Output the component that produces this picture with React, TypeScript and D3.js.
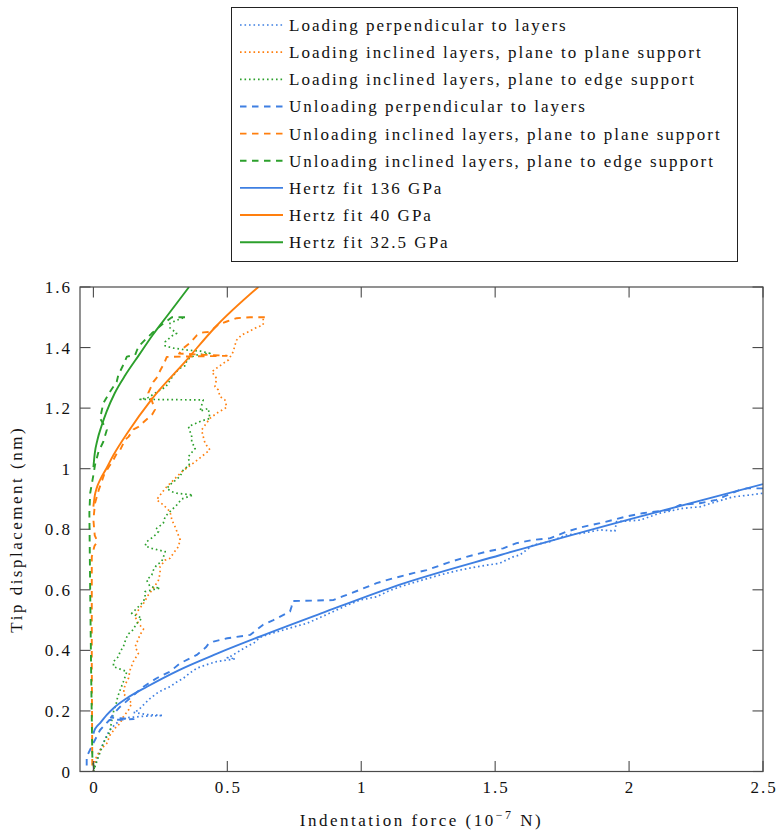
import React from 'react';
import * as d3 from 'd3';

type Pt = [number, number]; // [indentation force (1e-7 N), tip displacement (nm)]

// Measured loading curves
const loadPerpendicular: Pt[] = [
  [0.0, 0.0], [0.006, 0.02], [0.012, 0.04], [0.02, 0.06], [0.03, 0.08], [0.04, 0.1], [0.05, 0.12],
  [0.06, 0.135], [0.075, 0.15], [0.09, 0.162], [0.1, 0.17], [0.13, 0.178], [0.18, 0.182], [0.26, 0.185],
  [0.2, 0.188], [0.15, 0.195], [0.168, 0.203], [0.187, 0.22], [0.21, 0.24], [0.236, 0.258], [0.26, 0.27],
  [0.286, 0.28], [0.31, 0.295], [0.336, 0.308], [0.36, 0.325], [0.386, 0.341], [0.42, 0.352], [0.46, 0.363],
  [0.53, 0.372], [0.5, 0.376], [0.51, 0.379], [0.54, 0.395], [0.572, 0.412], [0.6, 0.425], [0.622, 0.443],
  [0.66, 0.455], [0.7, 0.465], [0.75, 0.478], [0.796, 0.489], [0.85, 0.51], [0.9, 0.53], [0.95, 0.55],
  [0.995, 0.566], [1.057, 0.577], [1.1, 0.595], [1.144, 0.61], [1.2, 0.625], [1.269, 0.643], [1.32, 0.655],
  [1.368, 0.665], [1.43, 0.676], [1.518, 0.688], [1.567, 0.709], [1.592, 0.715], [1.642, 0.748],
  [1.704, 0.759], [1.766, 0.781], [1.828, 0.787], [1.891, 0.798], [1.947, 0.794], [1.953, 0.825],
  [2.04, 0.83], [2.115, 0.853], [2.2, 0.869], [2.264, 0.874], [2.326, 0.891], [2.388, 0.907],
  [2.45, 0.913], [2.5, 0.919],
];

const loadPlaneToPlane: Pt[] = [
  [0, 0], [0.006, 0.038], [0.025, 0.071], [0.05, 0.093], [0.062, 0.12], [0.081, 0.143], [0.1, 0.159],
  [0.112, 0.181], [0.131, 0.203], [0.143, 0.225], [0.112, 0.258], [0.118, 0.286], [0.131, 0.308],
  [0.137, 0.335], [0.149, 0.363], [0.168, 0.39], [0.156, 0.412], [0.174, 0.451], [0.187, 0.47],
  [0.168, 0.489], [0.156, 0.511], [0.168, 0.533], [0.187, 0.555], [0.205, 0.583], [0.224, 0.605],
  [0.243, 0.632], [0.249, 0.655], [0.249, 0.676], [0.268, 0.698], [0.286, 0.704], [0.299, 0.721],
  [0.317, 0.742], [0.324, 0.765], [0.317, 0.781], [0.305, 0.808], [0.293, 0.831], [0.286, 0.858],
  [0.262, 0.88], [0.236, 0.897], [0.245, 0.908], [0.268, 0.935], [0.293, 0.957], [0.33, 0.99],
  [0.38, 1.023], [0.435, 1.062], [0.417, 1.084], [0.41, 1.106], [0.404, 1.128], [0.435, 1.166],
  [0.46, 1.183], [0.498, 1.203], [0.491, 1.227], [0.473, 1.238], [0.466, 1.26], [0.454, 1.271],
  [0.46, 1.298], [0.442, 1.32], [0.46, 1.332], [0.485, 1.348], [0.504, 1.359], [0.522, 1.386],
  [0.529, 1.409], [0.535, 1.425], [0.554, 1.442], [0.579, 1.452], [0.603, 1.464], [0.634, 1.475],
  [0.634, 1.502],
];

const loadPlaneToEdge: Pt[] = [
  [0, 0], [0.006, 0.016], [0.019, 0.049], [0.031, 0.077], [0.037, 0.093], [0.05, 0.115], [0.062, 0.131],
  [0.065, 0.15], [0.069, 0.17], [0.075, 0.197], [0.087, 0.23], [0.09, 0.245], [0.1, 0.269], [0.112, 0.297],
  [0.125, 0.33], [0.1, 0.338], [0.075, 0.346], [0.075, 0.363], [0.093, 0.379], [0.1, 0.396], [0.112, 0.412],
  [0.118, 0.429], [0.125, 0.445], [0.131, 0.455], [0.143, 0.462], [0.162, 0.489], [0.181, 0.506],
  [0.143, 0.522], [0.168, 0.544], [0.187, 0.561], [0.193, 0.577], [0.193, 0.594], [0.249, 0.606],
  [0.212, 0.61], [0.199, 0.632], [0.218, 0.649], [0.224, 0.665], [0.236, 0.682], [0.255, 0.693],
  [0.261, 0.707], [0.268, 0.726], [0.218, 0.737], [0.193, 0.745], [0.199, 0.759], [0.224, 0.775],
  [0.243, 0.792], [0.236, 0.803], [0.261, 0.82], [0.268, 0.842], [0.286, 0.858], [0.311, 0.88],
  [0.33, 0.9], [0.372, 0.913], [0.311, 0.919], [0.293, 0.924], [0.274, 0.935], [0.29, 0.95],
  [0.323, 0.974], [0.336, 0.996], [0.358, 1.012], [0.355, 1.04], [0.38, 1.067], [0.367, 1.089],
  [0.367, 1.106], [0.355, 1.139], [0.404, 1.158], [0.435, 1.166], [0.429, 1.199], [0.398, 1.19],
  [0.41, 1.227], [0.174, 1.229], [0.205, 1.235], [0.24, 1.255], [0.27, 1.27], [0.285, 1.29],
  [0.3, 1.31], [0.32, 1.33], [0.342, 1.34], [0.35, 1.36], [0.38, 1.375], [0.435, 1.381], [0.4, 1.388],
  [0.349, 1.392], [0.3, 1.398], [0.268, 1.405], [0.268, 1.419], [0.293, 1.438], [0.311, 1.447],
  [0.286, 1.465], [0.286, 1.48], [0.31, 1.49], [0.342, 1.5],
];

// Measured unloading curves
const unloadPerpendicular: Pt[] = [
  [2.5, 0.935], [2.44, 0.935], [2.413, 0.93], [2.36, 0.91], [2.326, 0.897], [2.264, 0.886], [2.189, 0.88],
  [2.152, 0.864], [2.05, 0.853], [1.99, 0.842], [1.891, 0.82], [1.828, 0.808], [1.766, 0.792],
  [1.704, 0.77], [1.642, 0.765], [1.58, 0.754], [1.53, 0.737], [1.468, 0.726], [1.393, 0.709],
  [1.319, 0.688], [1.244, 0.665], [1.194, 0.655], [1.119, 0.638], [1.057, 0.622], [0.995, 0.6],
  [0.93, 0.578], [0.895, 0.566], [0.743, 0.563], [0.74, 0.545], [0.734, 0.528], [0.672, 0.5],
  [0.634, 0.485], [0.585, 0.451], [0.5, 0.44], [0.448, 0.429], [0.43, 0.422], [0.42, 0.41],
  [0.386, 0.385], [0.323, 0.357], [0.286, 0.33], [0.236, 0.308], [0.187, 0.28], [0.137, 0.242],
  [0.1, 0.214], [0.08, 0.195], [0.065, 0.178], [0.15, 0.173], [0.06, 0.17], [0.025, 0.137],
  [0.0, 0.094], [-0.025, 0.049], [-0.025, 0.005],
];

const unloadPlaneToPlane: Pt[] = [
  [0.64, 1.5], [0.585, 1.5], [0.535, 1.497], [0.498, 1.486], [0.466, 1.476], [0.435, 1.452], [0.41, 1.45],
  [0.386, 1.44], [0.36, 1.415], [0.336, 1.398], [0.32, 1.38], [0.498, 1.373], [0.274, 1.369],
  [0.264, 1.348], [0.25, 1.325], [0.236, 1.3], [0.224, 1.287], [0.205, 1.25], [0.212, 1.24],
  [0.23, 1.195], [0.22, 1.18], [0.168, 1.138], [0.15, 1.13], [0.131, 1.105], [0.118, 1.095],
  [0.1, 1.062], [0.087, 1.05], [0.069, 1.02], [0.062, 1.012], [0.04, 0.98], [0.02, 0.93],
  [0.006, 0.886], [0, 0.831], [0.005, 0.78], [0.015, 0.76], [0.004, 0.745], [-0.006, 0.709],
  [-0.006, 0.35], [-0.004, 0],
];

const unloadPlaneToEdge: Pt[] = [
  [0.342, 1.5], [0.293, 1.5], [0.255, 1.475], [0.218, 1.447], [0.199, 1.431], [0.168, 1.403],
  [0.156, 1.376], [0.125, 1.37], [0.11, 1.34], [0.093, 1.309], [0.087, 1.287], [0.062, 1.254],
  [0.037, 1.216], [0.025, 1.166], [0.05, 1.128], [0.037, 1.089], [0.019, 1.056], [0.006, 1.012],
  [0, 0.979], [-0.012, 0.919], [-0.015, 0.853], [-0.012, 0.6], [-0.008, 0.3], [-0.004, 0.05], [0.004, 0],
];

// Hertz contact fits
const hertz136: Pt[] = [
  [0, 0.125], [0.005, 0.138], [0.012, 0.148], [0.025, 0.16], [0.05, 0.187], [0.075, 0.209],
  [0.125, 0.242], [0.2, 0.28], [0.32, 0.335], [0.45, 0.385], [0.62, 0.445], [0.85, 0.522],
  [1.12, 0.61], [1.52, 0.715], [2.015, 0.836], [2.5, 0.949],
];

const hertz40: Pt[] = [
  [0, 0.875], [0.005, 0.91], [0.012, 0.935], [0.025, 0.963], [0.048, 1.0], [0.075, 1.045],
  [0.13, 1.122], [0.218, 1.23], [0.342, 1.353], [0.46, 1.472], [0.616, 1.6],
];

const hertz325: Pt[] = [
  [0, 1.005], [0.005, 1.05], [0.015, 1.095], [0.03, 1.14], [0.05, 1.19], [0.08, 1.25],
  [0.12, 1.31], [0.17, 1.375], [0.22, 1.44], [0.28, 1.51], [0.357, 1.6],
];

const xTicks = [0, 0.5, 1, 1.5, 2, 2.5];
const yTicks = [0, 0.2, 0.4, 0.6, 0.8, 1, 1.2, 1.4, 1.6];

const BLUE = '#3e7fe2';
const ORANGE = '#ff7f0e';
const GREEN = '#2ca02c';

type Kind = 'dotted' | 'dashed' | 'solid';
interface Series { label: string; data: Pt[]; color: string; kind: Kind }

const series: Series[] = [
  { label: 'Loading perpendicular to layers', data: loadPerpendicular, color: BLUE, kind: 'dotted' },
  { label: 'Loading inclined layers, plane to plane support', data: loadPlaneToPlane, color: ORANGE, kind: 'dotted' },
  { label: 'Loading inclined layers, plane to edge support', data: loadPlaneToEdge, color: GREEN, kind: 'dotted' },
  { label: 'Unloading perpendicular to layers', data: unloadPerpendicular, color: BLUE, kind: 'dashed' },
  { label: 'Unloading inclined layers, plane to plane support', data: unloadPlaneToPlane, color: ORANGE, kind: 'dashed' },
  { label: 'Unloading inclined layers, plane to edge support', data: unloadPlaneToEdge, color: GREEN, kind: 'dashed' },
  { label: 'Hertz fit 136 GPa', data: hertz136, color: BLUE, kind: 'solid' },
  { label: 'Hertz fit 40 GPa', data: hertz40, color: ORANGE, kind: 'solid' },
  { label: 'Hertz fit 32.5 GPa', data: hertz325, color: GREEN, kind: 'solid' },
];

const strokeStyle = (kind: Kind) => {
  if (kind === 'dotted') return { strokeWidth: 1.7, strokeDasharray: '1.6 2.9' };
  if (kind === 'dashed') return { strokeWidth: 1.9, strokeDasharray: '6.5 5.5' };
  return { strokeWidth: 1.9, strokeDasharray: undefined };
};

const SPACING = 2;
const FONT = "'Liberation Serif', 'DejaVu Serif', 'Times New Roman', serif";
const textStyle: React.CSSProperties = {
  fontFamily: FONT,
  fontSize: '17px',
  letterSpacing: `${SPACING}px`,
};
const titleStyle: React.CSSProperties = { ...textStyle, letterSpacing: '2.5px' };

export default function App() {
  const W = 778;
  const H = 830;
  const left = 80, right = 763, top = 287, bottom = 771.5;
  const x = d3.scaleLinear().domain([-0.05, 2.5]).range([left, right]);
  const y = d3.scaleLinear().domain([0, 1.6]).range([bottom, top]);
  const raw = d3.line<Pt>().x((d) => x(d[0])).y((d) => y(d[1]));
  const smooth = d3.line<Pt>().x((d) => x(d[0])).y((d) => y(d[1])).curve(d3.curveMonotoneX);
  const tickLen = 10.5;
  const axisColor = '#4a4a4a';

  const legendX = 231.5, legendY = 7.5, legendW = 506, legendH = 254;
  const rowY = (i: number) => 25 + i * 27.15;

  return (
    <svg width={W} height={H} style={{ position: 'absolute', left: 0, top: 0, background: '#fff' }}>
      <defs>
        <clipPath id="plot-area">
          <rect x={left} y={top} width={right - left} height={bottom - top} />
        </clipPath>
      </defs>

      {/* curves */}
      <g clipPath="url(#plot-area)" fill="none" strokeLinejoin="round">
        {series.map((s) => {
          const st = strokeStyle(s.kind);
          const path = s.kind === 'solid' ? smooth(s.data) : raw(s.data);
          return (
            <path key={s.label} d={path || ''} stroke={s.color}
              strokeWidth={st.strokeWidth} strokeDasharray={st.strokeDasharray} />
          );
        })}
      </g>

      {/* frame */}
      <rect x={left} y={top} width={right - left} height={bottom - top} fill="none"
        stroke={axisColor} strokeWidth={1.2} />

      {/* ticks on all four sides, pointing inward */}
      <g stroke={axisColor} strokeWidth={1.1}>
        {xTicks.map((t) => (
          <g key={`xt${t}`}>
            <line x1={x(t)} x2={x(t)} y1={bottom} y2={bottom - tickLen} />
            <line x1={x(t)} x2={x(t)} y1={top} y2={top + tickLen} />
          </g>
        ))}
        {yTicks.map((t) => (
          <g key={`yt${t}`}>
            <line x1={left} x2={left + tickLen} y1={y(t)} y2={y(t)} />
            <line x1={right} x2={right - tickLen} y1={y(t)} y2={y(t)} />
          </g>
        ))}
      </g>

      <g fill="#111">
        {xTicks.map((t) => (
          <text key={`xl${t}`} style={textStyle} x={x(t) + SPACING / 2} y={793} textAnchor="middle">{String(t)}</text>
        ))}
        {yTicks.map((t) => (
          <text key={`yl${t}`} style={textStyle} x={72} y={y(t) + 6} textAnchor="end">{String(t)}</text>
        ))}
      </g>

      {/* axis titles */}
      <text style={titleStyle} x={(left + right) / 2} y={826} textAnchor="middle" fill="#111">
        Indentation force (10
        <tspan style={{ fontSize: '12px' }} dy={-7}>−7</tspan>
        <tspan dy={7}> N)</tspan>
      </text>
      <text style={titleStyle} transform={`translate(22, ${(top + bottom) / 2}) rotate(-90)`} textAnchor="middle"
        fill="#111">
        Tip displacement (nm)
      </text>

      {/* legend */}
      <rect x={legendX} y={legendY} width={legendW} height={legendH} fill="#fff" stroke="#222" strokeWidth={1} />
      {series.map((s, i) => {
        const st = strokeStyle(s.kind);
        const yy = rowY(i);
        return (
          <g key={`lg${i}`}>
            <line x1={240} x2={283} y1={yy} y2={yy} stroke={s.color} strokeWidth={st.strokeWidth}
              strokeDasharray={st.strokeDasharray} />
            <text style={textStyle} x={289} y={yy + 6} fill="#111">{s.label}</text>
          </g>
        );
      })}
    </svg>
  );
}
